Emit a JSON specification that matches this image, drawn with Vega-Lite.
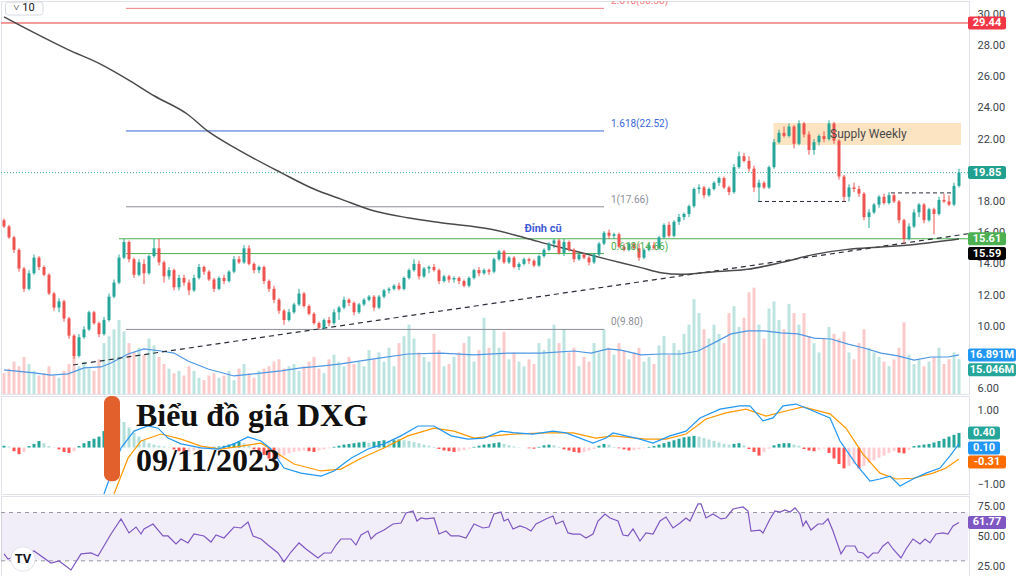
{
"$schema":"https://vega.github.io/schema/vega-lite/v6.json",
"padding":0,
"background":"white",
"bounds":"flush",
"spacing":2,
"config":{"view":{"stroke":"#e0e3eb"},"axis":{"ticks":false,"tickSize":0,"domain":false,"grid":false,"labelPadding":8,"labelColor":"#3c3f4a","labelFontSize":11,"labelFont":"Roboto","labelOverlap":false},"text":{"font":"Roboto"}},
"datasets":{
"candles":[
{"i":0,"o":16.8,"h":16.9,"l":16.3,"c":16.4,"v":9,"mh":0.05,"hc":"A"},
{"i":1,"o":16.4,"h":16.5,"l":15.6,"c":15.7,"v":11,"mh":0.03,"hc":"B"},
{"i":2,"o":15.7,"h":15.8,"l":14.7,"c":14.9,"v":14,"mh":-0.1,"hc":"C"},
{"i":3,"o":14.9,"h":15.0,"l":13.5,"c":13.7,"v":12,"mh":-0.18,"hc":"C"},
{"i":4,"o":13.7,"h":13.8,"l":12.2,"c":12.4,"v":16,"mh":-0.12,"hc":"D"},
{"i":5,"o":12.4,"h":13.6,"l":12.3,"c":13.4,"v":13,"mh":0.04,"hc":"A"},
{"i":6,"o":13.4,"h":14.6,"l":13.3,"c":14.4,"v":10,"mh":0.1,"hc":"A"},
{"i":7,"o":14.4,"h":14.5,"l":13.6,"c":13.8,"v":8,"mh":0.18,"hc":"A"},
{"i":8,"o":13.8,"h":13.9,"l":13.2,"c":13.3,"v":9,"mh":0.12,"hc":"B"},
{"i":9,"o":13.3,"h":13.4,"l":12.0,"c":12.1,"v":12,"mh":0.04,"hc":"B"},
{"i":10,"o":12.1,"h":12.2,"l":11.0,"c":11.2,"v":8,"mh":0.01,"hc":"B"},
{"i":11,"o":11.2,"h":11.8,"l":10.9,"c":11.6,"v":7,"mh":-0.05,"hc":"C"},
{"i":12,"o":11.6,"h":11.7,"l":10.3,"c":10.5,"v":10,"mh":-0.12,"hc":"C"},
{"i":13,"o":10.5,"h":10.6,"l":9.2,"c":9.4,"v":13,"mh":-0.15,"hc":"C"},
{"i":14,"o":9.4,"h":9.5,"l":7.9,"c":8.1,"v":17,"mh":-0.1,"hc":"D"},
{"i":15,"o":8.1,"h":9.5,"l":8.0,"c":9.3,"v":12,"mh":0.04,"hc":"A"},
{"i":16,"o":9.3,"h":10.0,"l":9.2,"c":9.8,"v":14,"mh":0.12,"hc":"A"},
{"i":17,"o":9.8,"h":11.0,"l":9.7,"c":10.9,"v":11,"mh":0.18,"hc":"A"},
{"i":18,"o":10.9,"h":11.0,"l":10.1,"c":10.2,"v":10,"mh":0.24,"hc":"A"},
{"i":19,"o":10.2,"h":10.3,"l":9.3,"c":9.5,"v":15,"mh":0.3,"hc":"A"},
{"i":20,"o":9.5,"h":10.6,"l":9.4,"c":10.4,"v":22,"mh":0.45,"hc":"A"},
{"i":21,"o":10.4,"h":12.1,"l":10.3,"c":11.9,"v":25,"mh":0.65,"hc":"A"},
{"i":22,"o":11.9,"h":13.0,"l":11.8,"c":12.8,"v":28,"mh":0.85,"hc":"A"},
{"i":23,"o":12.8,"h":14.6,"l":12.7,"c":14.4,"v":32,"mh":0.8,"hc":"B"},
{"i":24,"o":14.4,"h":15.6,"l":14.3,"c":15.4,"v":27,"mh":0.7,"hc":"B"},
{"i":25,"o":15.4,"h":15.5,"l":14.1,"c":14.3,"v":22,"mh":0.55,"hc":"B"},
{"i":26,"o":14.3,"h":14.4,"l":13.1,"c":13.3,"v":18,"mh":0.4,"hc":"B"},
{"i":27,"o":13.3,"h":14.3,"l":13.2,"c":14.1,"v":20,"mh":0.3,"hc":"B"},
{"i":28,"o":14.0,"h":14.3,"l":12.7,"c":13.4,"v":17,"mh":0.2,"hc":"B"},
{"i":29,"o":13.4,"h":14.6,"l":13.3,"c":14.5,"v":24,"mh":0.12,"hc":"B"},
{"i":30,"o":14.5,"h":15.6,"l":14.4,"c":15.0,"v":21,"mh":0.08,"hc":"B"},
{"i":31,"o":15.0,"h":15.6,"l":13.9,"c":14.1,"v":16,"mh":0.05,"hc":"B"},
{"i":32,"o":14.1,"h":14.2,"l":12.8,"c":13.2,"v":13,"mh":0.03,"hc":"B"},
{"i":33,"o":13.2,"h":13.8,"l":13.0,"c":13.6,"v":11,"mh":0.01,"hc":"B"},
{"i":34,"o":13.6,"h":13.7,"l":12.3,"c":12.5,"v":9,"mh":-0.05,"hc":"C"},
{"i":35,"o":12.5,"h":13.3,"l":12.3,"c":13.1,"v":10,"mh":-0.1,"hc":"C"},
{"i":36,"o":13.1,"h":13.3,"l":12.6,"c":12.8,"v":8,"mh":-0.15,"hc":"C"},
{"i":37,"o":12.8,"h":13.0,"l":12.0,"c":12.3,"v":12,"mh":-0.12,"hc":"D"},
{"i":38,"o":12.3,"h":13.3,"l":12.2,"c":13.1,"v":10,"mh":-0.08,"hc":"D"},
{"i":39,"o":13.1,"h":14.0,"l":13.0,"c":13.8,"v":7,"mh":-0.05,"hc":"D"},
{"i":40,"o":13.8,"h":13.9,"l":13.3,"c":13.5,"v":6,"mh":-0.02,"hc":"D"},
{"i":41,"o":13.5,"h":13.6,"l":12.9,"c":13.0,"v":8,"mh":0.01,"hc":"A"},
{"i":42,"o":13.0,"h":13.1,"l":12.2,"c":12.4,"v":9,"mh":0.02,"hc":"A"},
{"i":43,"o":12.4,"h":13.2,"l":12.3,"c":13.1,"v":7,"mh":0.03,"hc":"A"},
{"i":44,"o":13.1,"h":13.3,"l":12.7,"c":12.9,"v":8,"mh":0.05,"hc":"A"},
{"i":45,"o":12.9,"h":13.6,"l":12.8,"c":13.5,"v":10,"mh":0.08,"hc":"A"},
{"i":46,"o":13.5,"h":14.5,"l":13.4,"c":14.3,"v":6,"mh":0.12,"hc":"A"},
{"i":47,"o":14.3,"h":14.5,"l":14.0,"c":14.1,"v":11,"mh":0.16,"hc":"A"},
{"i":48,"o":14.1,"h":15.2,"l":14.0,"c":15.0,"v":13,"mh":0.12,"hc":"B"},
{"i":49,"o":15.0,"h":15.2,"l":13.9,"c":14.0,"v":9,"mh":0.06,"hc":"B"},
{"i":50,"o":14.0,"h":14.1,"l":13.4,"c":13.6,"v":7,"mh":-0.05,"hc":"C"},
{"i":51,"o":13.6,"h":13.9,"l":13.4,"c":13.8,"v":10,"mh":-0.12,"hc":"C"},
{"i":52,"o":13.8,"h":13.9,"l":12.7,"c":12.9,"v":11,"mh":-0.2,"hc":"C"},
{"i":53,"o":12.9,"h":13.0,"l":12.2,"c":12.4,"v":12,"mh":-0.3,"hc":"C"},
{"i":54,"o":12.4,"h":12.6,"l":11.5,"c":11.7,"v":14,"mh":-0.38,"hc":"C"},
{"i":55,"o":11.7,"h":11.8,"l":10.8,"c":11.0,"v":15,"mh":-0.32,"hc":"D"},
{"i":56,"o":11.0,"h":11.1,"l":10.1,"c":10.4,"v":11,"mh":-0.22,"hc":"D"},
{"i":57,"o":10.4,"h":11.1,"l":10.3,"c":10.9,"v":12,"mh":-0.16,"hc":"D"},
{"i":58,"o":10.9,"h":11.5,"l":10.8,"c":11.4,"v":13,"mh":-0.12,"hc":"D"},
{"i":59,"o":11.4,"h":12.4,"l":11.3,"c":12.1,"v":10,"mh":-0.1,"hc":"D"},
{"i":60,"o":12.1,"h":12.2,"l":11.2,"c":11.3,"v":12,"mh":-0.08,"hc":"D"},
{"i":61,"o":11.3,"h":11.4,"l":10.7,"c":10.8,"v":14,"mh":-0.1,"hc":"C"},
{"i":62,"o":10.8,"h":10.9,"l":10.1,"c":10.2,"v":16,"mh":-0.12,"hc":"C"},
{"i":63,"o":10.2,"h":10.3,"l":9.8,"c":9.9,"v":11,"mh":-0.08,"hc":"D"},
{"i":64,"o":9.9,"h":10.5,"l":9.8,"c":10.4,"v":9,"mh":-0.05,"hc":"D"},
{"i":65,"o":10.4,"h":10.6,"l":10.0,"c":10.2,"v":15,"mh":-0.02,"hc":"D"},
{"i":66,"o":10.2,"h":11.1,"l":10.1,"c":10.9,"v":17,"mh":0.02,"hc":"A"},
{"i":67,"o":10.9,"h":11.3,"l":10.4,"c":11.2,"v":14,"mh":0.05,"hc":"A"},
{"i":68,"o":11.2,"h":11.9,"l":11.1,"c":11.7,"v":12,"mh":0.08,"hc":"A"},
{"i":69,"o":11.7,"h":11.8,"l":11.3,"c":11.5,"v":16,"mh":0.1,"hc":"A"},
{"i":70,"o":11.5,"h":11.6,"l":10.7,"c":10.9,"v":13,"mh":0.12,"hc":"A"},
{"i":71,"o":10.9,"h":11.5,"l":10.8,"c":11.4,"v":14,"mh":0.14,"hc":"A"},
{"i":72,"o":11.4,"h":11.8,"l":11.3,"c":11.7,"v":12,"mh":0.16,"hc":"A"},
{"i":73,"o":11.7,"h":12.0,"l":11.6,"c":11.9,"v":19,"mh":0.13,"hc":"B"},
{"i":74,"o":11.9,"h":12.0,"l":11.0,"c":11.2,"v":15,"mh":0.16,"hc":"A"},
{"i":75,"o":11.2,"h":12.0,"l":11.1,"c":11.9,"v":18,"mh":0.18,"hc":"A"},
{"i":76,"o":11.9,"h":12.4,"l":11.8,"c":12.3,"v":14,"mh":0.2,"hc":"A"},
{"i":77,"o":12.3,"h":12.5,"l":12.1,"c":12.4,"v":20,"mh":0.17,"hc":"B"},
{"i":78,"o":12.4,"h":12.7,"l":12.3,"c":12.6,"v":12,"mh":0.2,"hc":"A"},
{"i":79,"o":12.6,"h":12.8,"l":12.3,"c":12.4,"v":22,"mh":0.22,"hc":"A"},
{"i":80,"o":12.4,"h":13.2,"l":12.3,"c":13.1,"v":25,"mh":0.2,"hc":"B"},
{"i":81,"o":13.1,"h":13.7,"l":13.0,"c":13.6,"v":30,"mh":0.18,"hc":"B"},
{"i":82,"o":13.6,"h":14.3,"l":13.5,"c":14.0,"v":24,"mh":0.15,"hc":"B"},
{"i":83,"o":14.0,"h":14.2,"l":13.0,"c":13.2,"v":18,"mh":0.12,"hc":"B"},
{"i":84,"o":13.2,"h":13.8,"l":13.1,"c":13.7,"v":16,"mh":0.08,"hc":"B"},
{"i":85,"o":13.7,"h":13.9,"l":13.4,"c":13.8,"v":14,"mh":0.05,"hc":"B"},
{"i":86,"o":13.8,"h":14.0,"l":13.5,"c":13.6,"v":26,"mh":0.02,"hc":"B"},
{"i":87,"o":13.6,"h":13.7,"l":12.7,"c":12.9,"v":19,"mh":-0.04,"hc":"C"},
{"i":88,"o":12.9,"h":13.3,"l":12.8,"c":13.2,"v":12,"mh":-0.08,"hc":"C"},
{"i":89,"o":13.2,"h":13.3,"l":12.8,"c":13.0,"v":13,"mh":-0.1,"hc":"C"},
{"i":90,"o":13.0,"h":13.2,"l":12.8,"c":13.1,"v":16,"mh":-0.12,"hc":"C"},
{"i":91,"o":13.1,"h":13.2,"l":12.7,"c":12.9,"v":18,"mh":-0.1,"hc":"D"},
{"i":92,"o":12.9,"h":13.0,"l":12.5,"c":12.6,"v":22,"mh":-0.07,"hc":"D"},
{"i":93,"o":12.6,"h":13.2,"l":12.5,"c":13.1,"v":25,"mh":-0.03,"hc":"D"},
{"i":94,"o":13.1,"h":13.7,"l":13.0,"c":13.6,"v":14,"mh":0.02,"hc":"A"},
{"i":95,"o":13.6,"h":13.8,"l":13.2,"c":13.4,"v":19,"mh":0.05,"hc":"A"},
{"i":96,"o":13.4,"h":13.7,"l":13.3,"c":13.6,"v":33,"mh":0.08,"hc":"A"},
{"i":97,"o":13.6,"h":13.7,"l":13.3,"c":13.5,"v":20,"mh":0.1,"hc":"A"},
{"i":98,"o":13.5,"h":14.4,"l":13.4,"c":14.3,"v":28,"mh":0.12,"hc":"A"},
{"i":99,"o":14.3,"h":14.9,"l":14.2,"c":14.8,"v":20,"mh":0.14,"hc":"A"},
{"i":100,"o":14.8,"h":14.9,"l":14.0,"c":14.1,"v":27,"mh":0.1,"hc":"B"},
{"i":101,"o":14.1,"h":14.5,"l":14.0,"c":14.4,"v":15,"mh":0.06,"hc":"B"},
{"i":102,"o":14.4,"h":14.5,"l":13.7,"c":13.8,"v":18,"mh":0.03,"hc":"B"},
{"i":103,"o":13.8,"h":14.1,"l":13.6,"c":14.0,"v":14,"mh":0.01,"hc":"B"},
{"i":104,"o":14.0,"h":14.4,"l":13.9,"c":14.3,"v":12,"mh":0.0,"hc":"B"},
{"i":105,"o":14.3,"h":14.4,"l":14.0,"c":14.2,"v":15,"mh":-0.02,"hc":"C"},
{"i":106,"o":14.2,"h":14.3,"l":13.8,"c":13.9,"v":13,"mh":-0.03,"hc":"C"},
{"i":107,"o":13.9,"h":14.6,"l":13.8,"c":14.5,"v":22,"mh":0.02,"hc":"A"},
{"i":108,"o":14.5,"h":15.0,"l":14.4,"c":14.9,"v":19,"mh":0.06,"hc":"A"},
{"i":109,"o":14.9,"h":15.4,"l":14.8,"c":15.3,"v":24,"mh":0.08,"hc":"A"},
{"i":110,"o":15.3,"h":15.6,"l":15.0,"c":15.5,"v":30,"mh":0.06,"hc":"B"},
{"i":111,"o":15.5,"h":15.6,"l":14.6,"c":14.7,"v":22,"mh":0.02,"hc":"B"},
{"i":112,"o":14.7,"h":15.6,"l":14.5,"c":15.4,"v":28,"mh":-0.05,"hc":"C"},
{"i":113,"o":15.4,"h":15.5,"l":14.8,"c":14.9,"v":18,"mh":-0.08,"hc":"C"},
{"i":114,"o":14.9,"h":15.0,"l":14.1,"c":14.3,"v":20,"mh":-0.12,"hc":"C"},
{"i":115,"o":14.3,"h":14.7,"l":14.2,"c":14.6,"v":12,"mh":-0.14,"hc":"C"},
{"i":116,"o":14.6,"h":14.7,"l":14.3,"c":14.4,"v":16,"mh":-0.12,"hc":"D"},
{"i":117,"o":14.4,"h":14.5,"l":13.9,"c":14.1,"v":14,"mh":-0.08,"hc":"D"},
{"i":118,"o":14.1,"h":14.7,"l":14.0,"c":14.6,"v":22,"mh":-0.04,"hc":"D"},
{"i":119,"o":14.6,"h":15.4,"l":14.5,"c":15.3,"v":18,"mh":0.05,"hc":"A"},
{"i":120,"o":15.3,"h":16.1,"l":15.2,"c":16.0,"v":28,"mh":0.1,"hc":"A"},
{"i":121,"o":16.0,"h":16.2,"l":15.6,"c":15.8,"v":20,"mh":0.08,"hc":"B"},
{"i":122,"o":15.8,"h":16.0,"l":15.6,"c":15.9,"v":17,"mh":0.02,"hc":"B"},
{"i":123,"o":15.9,"h":16.0,"l":15.0,"c":15.1,"v":22,"mh":-0.02,"hc":"C"},
{"i":124,"o":15.1,"h":15.3,"l":14.8,"c":14.9,"v":19,"mh":-0.05,"hc":"C"},
{"i":125,"o":14.9,"h":15.4,"l":14.8,"c":15.3,"v":15,"mh":-0.08,"hc":"C"},
{"i":126,"o":15.3,"h":15.4,"l":14.9,"c":15.0,"v":18,"mh":-0.07,"hc":"D"},
{"i":127,"o":15.0,"h":15.3,"l":14.2,"c":14.4,"v":20,"mh":-0.05,"hc":"D"},
{"i":128,"o":14.4,"h":15.0,"l":14.3,"c":14.9,"v":14,"mh":-0.02,"hc":"D"},
{"i":129,"o":14.9,"h":15.3,"l":14.8,"c":15.2,"v":16,"mh":0.02,"hc":"A"},
{"i":130,"o":15.2,"h":15.4,"l":14.9,"c":15.0,"v":13,"mh":0.04,"hc":"A"},
{"i":131,"o":15.0,"h":15.8,"l":14.9,"c":15.7,"v":21,"mh":0.08,"hc":"A"},
{"i":132,"o":15.7,"h":16.6,"l":15.6,"c":16.5,"v":25,"mh":0.12,"hc":"A"},
{"i":133,"o":16.5,"h":16.7,"l":15.7,"c":15.8,"v":17,"mh":0.16,"hc":"A"},
{"i":134,"o":15.8,"h":16.8,"l":15.7,"c":16.7,"v":22,"mh":0.2,"hc":"A"},
{"i":135,"o":16.7,"h":17.2,"l":16.5,"c":17.0,"v":19,"mh":0.24,"hc":"A"},
{"i":136,"o":17.0,"h":17.3,"l":16.8,"c":17.2,"v":26,"mh":0.28,"hc":"A"},
{"i":137,"o":17.2,"h":17.8,"l":17.0,"c":17.7,"v":30,"mh":0.3,"hc":"A"},
{"i":138,"o":17.7,"h":18.9,"l":17.6,"c":18.8,"v":41,"mh":0.32,"hc":"A"},
{"i":139,"o":18.8,"h":19.1,"l":18.5,"c":18.9,"v":35,"mh":0.3,"hc":"B"},
{"i":140,"o":18.9,"h":19.0,"l":18.2,"c":18.4,"v":28,"mh":0.26,"hc":"B"},
{"i":141,"o":18.4,"h":18.9,"l":18.3,"c":18.8,"v":24,"mh":0.22,"hc":"B"},
{"i":142,"o":18.8,"h":19.3,"l":18.7,"c":19.2,"v":30,"mh":0.18,"hc":"B"},
{"i":143,"o":19.2,"h":19.6,"l":19.0,"c":19.5,"v":26,"mh":0.14,"hc":"B"},
{"i":144,"o":19.5,"h":19.6,"l":18.8,"c":18.9,"v":22,"mh":0.1,"hc":"B"},
{"i":145,"o":18.9,"h":19.0,"l":18.4,"c":18.6,"v":35,"mh":0.08,"hc":"B"},
{"i":146,"o":18.6,"h":20.4,"l":18.5,"c":20.2,"v":38,"mh":0.1,"hc":"A"},
{"i":147,"o":20.2,"h":21.2,"l":20.1,"c":20.9,"v":29,"mh":0.12,"hc":"A"},
{"i":148,"o":20.9,"h":21.1,"l":20.5,"c":20.6,"v":33,"mh":0.06,"hc":"B"},
{"i":149,"o":20.6,"h":20.9,"l":19.9,"c":20.1,"v":44,"mh":-0.04,"hc":"C"},
{"i":150,"o":20.1,"h":20.3,"l":18.6,"c":18.9,"v":46,"mh":-0.12,"hc":"C"},
{"i":151,"o":18.9,"h":19.4,"l":18.0,"c":19.2,"v":30,"mh":-0.22,"hc":"C"},
{"i":152,"o":19.2,"h":19.3,"l":18.8,"c":18.9,"v":24,"mh":-0.12,"hc":"D"},
{"i":153,"o":18.9,"h":20.3,"l":18.8,"c":20.2,"v":37,"mh":-0.03,"hc":"D"},
{"i":154,"o":20.2,"h":22.0,"l":20.1,"c":21.8,"v":40,"mh":0.06,"hc":"A"},
{"i":155,"o":21.8,"h":22.6,"l":21.7,"c":22.4,"v":32,"mh":0.1,"hc":"A"},
{"i":156,"o":22.4,"h":22.8,"l":22.1,"c":22.2,"v":28,"mh":0.12,"hc":"A"},
{"i":157,"o":22.2,"h":23.0,"l":22.1,"c":22.8,"v":39,"mh":0.12,"hc":"A"},
{"i":158,"o":22.8,"h":22.9,"l":21.4,"c":21.7,"v":35,"mh":0.08,"hc":"B"},
{"i":159,"o":21.7,"h":23.2,"l":21.6,"c":23.0,"v":30,"mh":0.05,"hc":"B"},
{"i":160,"o":23.0,"h":23.1,"l":22.1,"c":22.3,"v":35,"mh":-0.04,"hc":"C"},
{"i":161,"o":22.3,"h":22.5,"l":21.0,"c":21.3,"v":25,"mh":-0.08,"hc":"C"},
{"i":162,"o":21.3,"h":22.0,"l":21.0,"c":21.8,"v":22,"mh":-0.1,"hc":"C"},
{"i":163,"o":21.8,"h":22.3,"l":21.6,"c":22.2,"v":18,"mh":-0.06,"hc":"D"},
{"i":164,"o":22.2,"h":22.5,"l":21.8,"c":22.0,"v":24,"mh":-0.03,"hc":"D"},
{"i":165,"o":22.0,"h":23.2,"l":21.9,"c":23.0,"v":29,"mh":-0.15,"hc":"C"},
{"i":166,"o":23.0,"h":23.1,"l":21.7,"c":21.9,"v":26,"mh":-0.3,"hc":"C"},
{"i":167,"o":21.9,"h":22.0,"l":19.4,"c":19.6,"v":24,"mh":-0.45,"hc":"C"},
{"i":168,"o":19.6,"h":19.7,"l":18.0,"c":18.3,"v":27,"mh":-0.57,"hc":"C"},
{"i":169,"o":18.3,"h":19.1,"l":18.0,"c":18.9,"v":18,"mh":-0.5,"hc":"D"},
{"i":170,"o":18.9,"h":19.2,"l":18.6,"c":18.8,"v":15,"mh":-0.45,"hc":"D"},
{"i":171,"o":18.8,"h":19.0,"l":18.3,"c":18.5,"v":22,"mh":-0.57,"hc":"C"},
{"i":172,"o":18.5,"h":18.6,"l":16.8,"c":17.0,"v":28,"mh":-0.5,"hc":"D"},
{"i":173,"o":17.0,"h":17.5,"l":16.3,"c":17.3,"v":20,"mh":-0.42,"hc":"D"},
{"i":174,"o":17.3,"h":17.9,"l":17.2,"c":17.8,"v":18,"mh":-0.35,"hc":"D"},
{"i":175,"o":17.8,"h":18.4,"l":17.6,"c":18.3,"v":16,"mh":-0.28,"hc":"D"},
{"i":176,"o":18.3,"h":18.5,"l":17.8,"c":17.9,"v":14,"mh":-0.22,"hc":"D"},
{"i":177,"o":17.9,"h":18.6,"l":17.8,"c":18.4,"v":12,"mh":-0.15,"hc":"D"},
{"i":178,"o":18.4,"h":18.5,"l":17.9,"c":18.0,"v":15,"mh":-0.1,"hc":"D"},
{"i":179,"o":18.0,"h":18.1,"l":16.6,"c":16.8,"v":20,"mh":-0.14,"hc":"C"},
{"i":180,"o":16.8,"h":16.9,"l":15.3,"c":15.6,"v":31,"mh":-0.16,"hc":"C"},
{"i":181,"o":15.6,"h":16.6,"l":15.5,"c":16.4,"v":17,"mh":-0.06,"hc":"D"},
{"i":182,"o":16.4,"h":17.5,"l":16.3,"c":17.3,"v":13,"mh":0.04,"hc":"A"},
{"i":183,"o":17.3,"h":17.9,"l":17.0,"c":17.8,"v":15,"mh":0.06,"hc":"A"},
{"i":184,"o":17.8,"h":17.9,"l":16.6,"c":16.8,"v":12,"mh":0.08,"hc":"A"},
{"i":185,"o":16.8,"h":17.6,"l":16.7,"c":17.5,"v":14,"mh":0.1,"hc":"A"},
{"i":186,"o":17.5,"h":17.6,"l":15.9,"c":17.2,"v":16,"mh":0.14,"hc":"A"},
{"i":187,"o":17.2,"h":18.3,"l":17.1,"c":18.1,"v":20,"mh":0.18,"hc":"A"},
{"i":188,"o":18.1,"h":18.5,"l":17.9,"c":18.0,"v":13,"mh":0.24,"hc":"A"},
{"i":189,"o":18.0,"h":18.4,"l":17.7,"c":17.8,"v":15,"mh":0.3,"hc":"A"},
{"i":190,"o":17.8,"h":19.2,"l":17.7,"c":19.0,"v":18,"mh":0.35,"hc":"A"},
{"i":191,"o":19.0,"h":20.1,"l":18.9,"c":19.85,"v":15.046,"mh":0.4,"hc":"A"}
],
"ma200":[{"i":0,"m":29.83},{"i":6,"m":28.82},{"i":12.7,"m":27.75},{"i":19.4,"m":26.79},{"i":24.7,"m":25.83},{"i":30.1,"m":24.76},{"i":36.7,"m":23.59},{"i":40.7,"m":22.52},{"i":46.1,"m":21.45},{"i":55.4,"m":19.85},{"i":62.1,"m":18.78},{"i":67.4,"m":18.15},{"i":74.1,"m":17.39},{"i":80.7,"m":16.96},{"i":87.4,"m":16.64},{"i":97.4,"m":16.22},{"i":104.1,"m":15.68},{"i":110.1,"m":15.15},{"i":114.1,"m":14.83},{"i":120.7,"m":14.29},{"i":127.4,"m":13.76},{"i":131.4,"m":13.43},{"i":135.4,"m":13.33},{"i":142.1,"m":13.5},{"i":148.7,"m":13.65},{"i":155.4,"m":14.08},{"i":162.1,"m":14.61},{"i":168.7,"m":14.93},{"i":175.4,"m":15.08},{"i":182.1,"m":15.25},{"i":191,"m":15.59}],
"vma":[{"i":0,"v":10.4},{"i":6,"v":9.1},{"i":9.4,"v":8.2},{"i":12.8,"v":8.7},{"i":16,"v":11.3},{"i":19.4,"v":11.7},{"i":21.4,"v":13.4},{"i":24.8,"v":17.3},{"i":28,"v":19.5},{"i":31.4,"v":18.6},{"i":34,"v":17.7},{"i":36.8,"v":14.3},{"i":40.8,"v":10.8},{"i":46,"v":7.8},{"i":50,"v":8.7},{"i":55.4,"v":10.0},{"i":59.4,"v":11.3},{"i":63.4,"v":12.1},{"i":67.4,"v":13.0},{"i":74,"v":15.2},{"i":80.8,"v":17.3},{"i":87.4,"v":17.7},{"i":94,"v":16.9},{"i":100.8,"v":17.7},{"i":107.4,"v":17.7},{"i":114,"v":18.6},{"i":117.4,"v":17.7},{"i":120.8,"v":19.5},{"i":123.4,"v":19.0},{"i":127.4,"v":16.9},{"i":131.4,"v":17.3},{"i":135.4,"v":17.3},{"i":138.8,"v":18.6},{"i":142,"v":22.1},{"i":145.4,"v":26.0},{"i":148.8,"v":27.3},{"i":152,"v":27.3},{"i":155.4,"v":26.4},{"i":158.8,"v":26.0},{"i":162,"v":24.2},{"i":165.4,"v":23.8},{"i":168.8,"v":21.6},{"i":172,"v":19.9},{"i":175.4,"v":17.7},{"i":178.8,"v":16.5},{"i":182,"v":14.7},{"i":185.4,"v":16.0},{"i":188.8,"v":16.0},{"i":191,"v":16.891}],
"macd":[{"i":17,"m":-1.9},{"i":20,"m":-1.27},{"i":21.4,"m":-0.73},{"i":23.4,"m":-0.01},{"i":26,"m":0.45},{"i":28.8,"m":0.59},{"i":30.8,"m":0.53},{"i":32.8,"m":0.26},{"i":35.4,"m":0.1},{"i":39.4,"m":-0.01},{"i":42.8,"m":-0.04},{"i":46,"m":0.1},{"i":48.8,"m":0.29},{"i":51.4,"m":0.18},{"i":53.4,"m":-0.04},{"i":56,"m":-0.56},{"i":59.4,"m":-0.7},{"i":63.4,"m":-0.78},{"i":66,"m":-0.64},{"i":69.4,"m":-0.29},{"i":72.8,"m":-0.04},{"i":76,"m":0.1},{"i":79.4,"m":0.32},{"i":82.8,"m":0.59},{"i":86,"m":0.59},{"i":89.4,"m":0.32},{"i":92.8,"m":0.23},{"i":96,"m":0.26},{"i":99.4,"m":0.45},{"i":101.8,"m":0.41},{"i":105.8,"m":0.37},{"i":109.8,"m":0.45},{"i":112.4,"m":0.4},{"i":117.8,"m":0.12},{"i":120.4,"m":0.26},{"i":121.8,"m":0.4},{"i":127.2,"m":0.23},{"i":129.8,"m":0.12},{"i":133.2,"m":0.32},{"i":136.4,"m":0.45},{"i":139.2,"m":0.81},{"i":143.2,"m":1.05},{"i":147.2,"m":1.14},{"i":149.2,"m":1.14},{"i":151.8,"m":0.73},{"i":153.8,"m":0.81},{"i":155.8,"m":1.14},{"i":158.4,"m":1.19},{"i":160.4,"m":1.08},{"i":165.2,"m":0.81},{"i":167.2,"m":0.18},{"i":170.4,"m":-0.45},{"i":173.2,"m":-0.92},{"i":175.2,"m":-0.86},{"i":177.2,"m":-0.78},{"i":179.2,"m":-1.05},{"i":181.8,"m":-0.86},{"i":184.4,"m":-0.7},{"i":187.2,"m":-0.56},{"i":189.2,"m":-0.23},{"i":191,"m":0.1}],
"sig":[{"i":19,"s":-1.9},{"i":22,"s":-1.27},{"i":24.8,"s":-0.29},{"i":27.4,"s":0.18},{"i":31.4,"s":0.37},{"i":35.4,"s":0.23},{"i":39.4,"s":0.04},{"i":43.4,"s":-0.04},{"i":47.4,"s":0.04},{"i":51.4,"s":0.12},{"i":54,"s":-0.1},{"i":58,"s":-0.45},{"i":63.4,"s":-0.64},{"i":67.4,"s":-0.59},{"i":71.4,"s":-0.29},{"i":76,"s":-0.01},{"i":80.8,"s":0.32},{"i":86,"s":0.53},{"i":90,"s":0.45},{"i":94,"s":0.26},{"i":98,"s":0.32},{"i":101.8,"s":0.37},{"i":108.4,"s":0.4},{"i":113.8,"s":0.4},{"i":118.4,"s":0.26},{"i":121.8,"s":0.32},{"i":128.4,"s":0.23},{"i":132.4,"s":0.23},{"i":136.4,"s":0.37},{"i":140.4,"s":0.78},{"i":144.4,"s":0.95},{"i":148.4,"s":1.05},{"i":152.4,"s":0.86},{"i":156.4,"s":1.0},{"i":159.8,"s":1.11},{"i":165.2,"s":0.92},{"i":168.4,"s":0.53},{"i":171.8,"s":-0.18},{"i":175.2,"s":-0.7},{"i":178.4,"s":-0.86},{"i":181.8,"s":-0.84},{"i":185.8,"s":-0.7},{"i":188.4,"s":-0.56},{"i":191,"s":-0.31}],
"rsi":[{"i":0,"r":35.7},{"i":0.8,"r":31.5},{"i":6,"r":38.2},{"i":9.4,"r":28.2},{"i":11,"r":29.9},{"i":13.4,"r":22.4},{"i":15.4,"r":35.7},{"i":17.4,"r":36.5},{"i":18.8,"r":34.0},{"i":21.4,"r":52.2},{"i":23.4,"r":64.7},{"i":25,"r":53.1},{"i":26.4,"r":58.0},{"i":27.4,"r":52.2},{"i":28,"r":56.4},{"i":29.8,"r":60.5},{"i":31.8,"r":50.6},{"i":32.8,"r":50.6},{"i":34.4,"r":44.0},{"i":35.4,"r":48.1},{"i":36.8,"r":44.8},{"i":38,"r":52.2},{"i":40,"r":50.6},{"i":41.4,"r":45.6},{"i":42.4,"r":51.4},{"i":44,"r":48.9},{"i":46,"r":58.0},{"i":47.4,"r":57.2},{"i":48.8,"r":62.2},{"i":49.8,"r":50.6},{"i":51.4,"r":48.1},{"i":52.8,"r":43.1},{"i":54.8,"r":36.5},{"i":56,"r":29.1},{"i":57.4,"r":37.3},{"i":59,"r":44.8},{"i":60.4,"r":39.8},{"i":62.8,"r":32.4},{"i":64,"r":36.5},{"i":65.4,"r":36.5},{"i":66.4,"r":43.1},{"i":67.4,"r":48.1},{"i":69.4,"r":48.1},{"i":70.4,"r":43.1},{"i":71.4,"r":51.4},{"i":72.8,"r":54.7},{"i":73.4,"r":48.1},{"i":74.4,"r":52.2},{"i":76,"r":55.5},{"i":77.8,"r":60.5},{"i":79.4,"r":61.3},{"i":80.4,"r":69.6},{"i":81.8,"r":71.3},{"i":82.6,"r":63.0},{"i":83.4,"r":65.5},{"i":84.4,"r":64.7},{"i":86,"r":65.5},{"i":87,"r":52.2},{"i":88.4,"r":54.7},{"i":89.4,"r":50.6},{"i":91,"r":50.6},{"i":92.4,"r":48.9},{"i":94,"r":60.5},{"i":95.8,"r":57.2},{"i":97,"r":58.0},{"i":98,"r":68.8},{"i":99.4,"r":70.4},{"i":100,"r":63.0},{"i":100.8,"r":64.7},{"i":101.8,"r":56.4},{"i":103.2,"r":58.9},{"i":104.4,"r":57.2},{"i":105.4,"r":54.7},{"i":106.4,"r":60.5},{"i":108.4,"r":64.7},{"i":109.8,"r":67.1},{"i":110.4,"r":60.5},{"i":111.8,"r":63.0},{"i":112.8,"r":53.1},{"i":113.8,"r":52.2},{"i":115.2,"r":52.2},{"i":116.4,"r":48.9},{"i":117.8,"r":52.2},{"i":118.8,"r":63.0},{"i":120.2,"r":68.8},{"i":121.2,"r":65.5},{"i":122.8,"r":63.0},{"i":123.8,"r":51.4},{"i":124.8,"r":50.6},{"i":125.8,"r":56.4},{"i":127.2,"r":46.4},{"i":128.4,"r":53.1},{"i":129.8,"r":52.2},{"i":131.2,"r":63.0},{"i":132.4,"r":66.3},{"i":133.8,"r":57.2},{"i":135.2,"r":61.3},{"i":136.4,"r":65.5},{"i":137.2,"r":63.0},{"i":138.8,"r":77.1},{"i":139.4,"r":77.1},{"i":140.4,"r":65.5},{"i":141.8,"r":68.8},{"i":143.4,"r":64.7},{"i":144.4,"r":65.5},{"i":145.8,"r":72.9},{"i":147.8,"r":74.6},{"i":148.8,"r":71.3},{"i":149.4,"r":54.7},{"i":151.2,"r":55.5},{"i":151.8,"r":53.1},{"i":153.2,"r":64.7},{"i":154.2,"r":71.3},{"i":155.2,"r":70.4},{"i":156.2,"r":72.1},{"i":157.2,"r":70.4},{"i":158.2,"r":73.8},{"i":159.2,"r":68.8},{"i":159.8,"r":58.9},{"i":160.4,"r":63.0},{"i":161.4,"r":55.5},{"i":162.8,"r":60.5},{"i":163.8,"r":60.5},{"i":164.8,"r":64.7},{"i":165.8,"r":54.7},{"i":167.4,"r":35.7},{"i":168.4,"r":42.3},{"i":170.2,"r":42.3},{"i":170.8,"r":37.3},{"i":171.8,"r":36.5},{"i":172.8,"r":32.4},{"i":173.8,"r":36.5},{"i":174.8,"r":36.5},{"i":175.8,"r":42.3},{"i":176.8,"r":45.6},{"i":177.8,"r":39.8},{"i":179.4,"r":32.4},{"i":180.4,"r":39.8},{"i":181.8,"r":48.1},{"i":183.2,"r":44.0},{"i":184.2,"r":48.1},{"i":185.2,"r":44.8},{"i":186.4,"r":52.2},{"i":187.8,"r":53.1},{"i":188.8,"r":52.2},{"i":189.8,"r":58.9},{"i":191,"r":61.77}],
"hl":[{"k":"f2618","x1":24.4,"x2":120,"y":30.38},{"k":"f1618","x1":24.4,"x2":120,"y":22.52},{"k":"f1","x1":24.4,"x2":120,"y":17.66},{"k":"f0618","x1":24.4,"x2":120,"y":14.66},{"k":"f0","x1":24.4,"x2":120,"y":9.8},{"k":"res","x1":-0.6,"x2":192.8,"y":29.44},{"k":"sup","x1":23,"x2":192.8,"y":15.61},{"k":"last","x1":-0.6,"x2":192.8,"y":19.85},{"k":"box","x1":150.8,"x2":168.8,"y":18.0},{"k":"box","x1":177.4,"x2":189.4,"y":18.55}],
"fibl":[{"k":"f2618","t":"2.618(30.38)","y":30.38},{"k":"f1618","t":"1.618(22.52)","y":22.52},{"k":"f1","t":"1(17.66)","y":17.66},{"k":"f0618","t":"0.618(14.66)","y":14.66},{"k":"f0","t":"0(9.80)","y":9.8}]
},
"resolve":{"scale":{"x":"independent","y":"independent","color":"independent","fill":"independent","strokeWidth":"independent","strokeDash":"independent"}},
"vconcat":[
{
"width":968,"height":393,
"resolve":{"scale":{"y":"independent"}},
"layer":[
{"layer":[
{"data":{"name":"candles"},"mark":{"type":"rule","strokeWidth":3,"opacity":0.3},"encoding":{"x":{"field":"i","type":"quantitative","scale":{"domain":[-0.6,193],"nice":false,"zero":false},"axis":null},"y":{"field":"v","type":"quantitative","scale":{"domain":[0,170],"nice":false,"zero":false},"axis":null},"y2":{"datum":0},"color":{"condition":{"test":"datum.c >= datum.o","value":"#26a69a"},"value":"#ef5350"}}},
{"data":{"name":"vma"},"mark":{"type":"line","color":"#4f97e3","strokeWidth":1.2},"encoding":{"x":{"field":"i","type":"quantitative","axis":null},"y":{"field":"v","type":"quantitative"}}},
{"data":{"values":[{"val":16.891,"t":"16.891M"}]},"layer":[
{"mark":{"type":"rect","color":"#2196f3","yOffset":-6.5,"y2Offset":6.5,"cornerRadius":2},"encoding":{"x":{"datum":192.8,"axis":null},"x2":{"datum":202.4},"y":{"field":"val","type":"quantitative"},"y2":{"field":"val"}}},
{"mark":{"type":"text","color":"white","fontWeight":"bold","fontSize":11},"encoding":{"x":{"datum":197.6,"axis":null},"y":{"field":"val","type":"quantitative"},"text":{"field":"t"}}}
]},
{"data":{"values":[{"val":15.046,"t":"15.046M"}]},"layer":[
{"mark":{"type":"rect","color":"#26a69a","yOffset":4,"y2Offset":17,"cornerRadius":2},"encoding":{"x":{"datum":192.8,"axis":null},"x2":{"datum":202.4},"y":{"field":"val","type":"quantitative"},"y2":{"field":"val"}}},
{"mark":{"type":"text","color":"white","fontWeight":"bold","fontSize":11,"dy":10.5},"encoding":{"x":{"datum":197.6,"axis":null},"y":{"field":"val","type":"quantitative"},"text":{"field":"t"}}}
]}
]},
{"layer":[
{"data":{"values":[{"x1":153.9,"x2":191.4,"lo":21.62,"hi":23.03}]},"mark":{"type":"rect","color":"#fbd9ad","opacity":0.75},"encoding":{"x":{"field":"x1","type":"quantitative","axis":null},"x2":{"field":"x2"},"y":{"field":"lo","type":"quantitative","scale":{"domain":[5.66,30.85],"nice":false,"zero":false},"axis":{"orient":"right","values":[6,10,12,14,16,18,22,24,26,28,30],"tickCount":20,"format":".2f","title":null,"labelOverlap":false}},"y2":{"field":"hi"}}},
{"data":{"name":"hl"},"mark":{"type":"rule"},"encoding":{"x":{"field":"x1","type":"quantitative","axis":null},"x2":{"field":"x2"},"y":{"field":"y","type":"quantitative"},
"color":{"field":"k","type":"nominal","scale":{"domain":["f2618","f1618","f1","f0618","f0","res","sup","last","box"],"range":["#ef7b7b","#3a66d8","#8c8f99","#4caf50","#8c8f99","#e53935","#4caf50","#3fa89c","#2a2e39"]},"legend":null},
"strokeWidth":{"field":"k","type":"ordinal","scale":{"domain":["f2618","f1618","f1","f0618","f0","res","sup","last","box"],"range":[1,1,1,1,1,1.6,2,1,1.2]},"legend":null},
"strokeDash":{"field":"k","type":"nominal","scale":{"domain":["f2618","f1618","f1","f0618","f0","res","sup","last","box"],"range":[[1,0],[1,0],[1,0],[1,0],[1,0],[1,0],[1,0],[1,2],[4,3]]},"legend":null}}},
{"data":{"values":[{"x1":13.8,"y1":7.52,"x2":192.8,"y2":15.93}]},"mark":{"type":"rule","color":"#2a2e39","strokeWidth":1.2,"strokeDash":[5,4]},"encoding":{"x":{"field":"x1","type":"quantitative","axis":null},"x2":{"field":"x2"},"y":{"field":"y1","type":"quantitative"},"y2":{"field":"y2"}}},
{"data":{"name":"ma200"},"mark":{"type":"line","color":"#4a4a4a","strokeWidth":1.5,"interpolate":"monotone"},"encoding":{"x":{"field":"i","type":"quantitative","axis":null},"y":{"field":"m","type":"quantitative"}}},
{"data":{"name":"candles"},"mark":{"type":"rule","strokeWidth":1},"encoding":{"x":{"field":"i","type":"quantitative","scale":{"domain":[-0.6,193],"nice":false,"zero":false},"axis":null},"y":{"field":"l","type":"quantitative"},"y2":{"field":"h"},"color":{"condition":{"test":"datum.c >= datum.o","value":"#26a69a"},"value":"#ef5350"}}},
{"data":{"name":"candles"},"mark":{"type":"rule","strokeWidth":3},"encoding":{"x":{"field":"i","type":"quantitative","axis":null},"y":{"field":"o","type":"quantitative"},"y2":{"field":"c"},"color":{"condition":{"test":"datum.c >= datum.o","value":"#26a69a"},"value":"#ef5350"}}},
{"data":{"name":"fibl"},"mark":{"type":"text","align":"left","baseline":"bottom","dy":-2,"fontSize":10,"clip":true},"encoding":{"x":{"datum":121.4,"axis":null},"y":{"field":"y","type":"quantitative"},"text":{"field":"t"},"color":{"field":"k","type":"nominal","legend":null}}},
{"data":{"values":[{"t":"Supply Weekly"}]},"mark":{"type":"text","align":"left","baseline":"middle","fontSize":12,"color":"#4a4a4a"},"encoding":{"x":{"datum":165.2,"axis":null},"y":{"datum":22.32},"text":{"field":"t"}}},
{"data":{"values":[{"t":"Đỉnh cũ"}]},"mark":{"type":"text","align":"center","baseline":"middle","fontSize":11,"fontWeight":"bold","color":"#3f5bd6"},"encoding":{"x":{"datum":107.8,"axis":null},"y":{"datum":16.23},"text":{"field":"t"}}},
{"data":{"values":[{"val":29.44,"t":"29.44","k":"r"},{"val":19.85,"t":"19.85","k":"t"},{"val":15.61,"t":"15.61","k":"g"}]},"layer":[
{"mark":{"type":"rect","yOffset":-6.5,"y2Offset":6.5,"cornerRadius":2},"encoding":{"x":{"datum":192.8,"axis":null},"x2":{"datum":200.4},"y":{"field":"val","type":"quantitative"},"y2":{"field":"val"},"fill":{"field":"k","type":"nominal","scale":{"domain":["r","t","g"],"range":["#f23645","#22a08f","#4caf50"]},"legend":null}}},
{"mark":{"type":"text","color":"white","fontWeight":"bold","fontSize":11},"encoding":{"x":{"datum":196.6,"axis":null},"y":{"field":"val","type":"quantitative"},"text":{"field":"t"}}}
]},
{"data":{"values":[{"val":15.59,"t":"15.59"}]},"layer":[
{"mark":{"type":"rect","color":"#000000","yOffset":8,"y2Offset":21,"cornerRadius":2},"encoding":{"x":{"datum":192.8,"axis":null},"x2":{"datum":200.4},"y":{"field":"val","type":"quantitative"},"y2":{"field":"val"}}},
{"mark":{"type":"text","color":"white","fontWeight":"bold","fontSize":11,"dy":14.5},"encoding":{"x":{"datum":196.6,"axis":null},"y":{"field":"val","type":"quantitative"},"text":{"field":"t"}}}
]},
{"data":{"values":[{"t":"˅ 10"}]},"layer":[
{"mark":{"type":"rect","fill":"white","stroke":"#d6d9e0","strokeWidth":1,"cornerRadius":3},"encoding":{"x":{"datum":0.3,"axis":null},"x2":{"datum":7.8},"y":{"datum":30.78},"y2":{"datum":29.95}}},
{"mark":{"type":"text","fontSize":11,"color":"#131722","align":"center","baseline":"middle"},"encoding":{"x":{"datum":4.0,"axis":null},"y":{"datum":30.37},"text":{"field":"t"}}}
]}
]}
]
},
{
"width":968,"height":98,
"layer":[
{"data":{"name":"candles"},"mark":{"type":"rule","strokeWidth":3},"encoding":{"x":{"field":"i","type":"quantitative","scale":{"domain":[-0.6,193],"nice":false,"zero":false},"axis":null},"y":{"field":"mh","type":"quantitative","scale":{"domain":[-1.27,1.41],"nice":false,"zero":false},"axis":{"orient":"right","values":[1,-1],"tickCount":10,"format":".2f","title":null}},"y2":{"datum":0},"color":{"field":"hc","type":"nominal","scale":{"domain":["A","B","C","D"],"range":["#26a69a","#b2dfdb","#ff5252","#ffcdd2"]},"legend":null}}},
{"data":{"name":"sig"},"mark":{"type":"line","color":"#ff9800","strokeWidth":1.2,"clip":true},"encoding":{"x":{"field":"i","type":"quantitative","axis":null},"y":{"field":"s","type":"quantitative"}}},
{"data":{"name":"macd"},"mark":{"type":"line","color":"#2196f3","strokeWidth":1.2,"clip":true},"encoding":{"x":{"field":"i","type":"quantitative","axis":null},"y":{"field":"m","type":"quantitative"}}},
{"data":{"values":[{"val":0.4,"t":"0.40"}]},"layer":[
{"mark":{"type":"rect","color":"#26a69a","yOffset":-6.5,"y2Offset":6.5,"cornerRadius":2},"encoding":{"x":{"datum":192.8,"axis":null},"x2":{"datum":199.2},"y":{"field":"val","type":"quantitative"},"y2":{"field":"val"}}},
{"mark":{"type":"text","color":"white","fontWeight":"bold","fontSize":11},"encoding":{"x":{"datum":196,"axis":null},"y":{"field":"val","type":"quantitative"},"text":{"field":"t"}}}
]},
{"data":{"values":[{"val":0.1,"t":"0.10"}]},"layer":[
{"mark":{"type":"rect","color":"#2196f3","yOffset":-2.5,"y2Offset":10.5,"cornerRadius":2},"encoding":{"x":{"datum":192.8,"axis":null},"x2":{"datum":199.2},"y":{"field":"val","type":"quantitative"},"y2":{"field":"val"}}},
{"mark":{"type":"text","color":"white","fontWeight":"bold","fontSize":11,"dy":4},"encoding":{"x":{"datum":196,"axis":null},"y":{"field":"val","type":"quantitative"},"text":{"field":"t"}}}
]},
{"data":{"values":[{"val":-0.31,"t":"-0.31"}]},"layer":[
{"mark":{"type":"rect","color":"#ff6d00","yOffset":-3.5,"y2Offset":9.5,"cornerRadius":2},"encoding":{"x":{"datum":192.8,"axis":null},"x2":{"datum":200.4},"y":{"field":"val","type":"quantitative"},"y2":{"field":"val"}}},
{"mark":{"type":"text","color":"white","fontWeight":"bold","fontSize":11,"dy":3},"encoding":{"x":{"datum":196.6,"axis":null},"y":{"field":"val","type":"quantitative"},"text":{"field":"t"}}}
]},
{"data":{"values":[{"t":"bar"}]},"mark":{"type":"rect","color":"#e2602c","cornerRadius":7},"encoding":{"x":{"datum":20,"axis":null},"x2":{"datum":23.2},"y":{"datum":1.41},"y2":{"datum":-0.92}}},
{"data":{"values":[{"t":"Biểu đồ giá DXG"}]},"mark":{"type":"text","align":"left","baseline":"alphabetic","font":"Liberation Serif","fontWeight":"bold","fontSize":32,"color":"#111111"},"encoding":{"x":{"datum":26.4,"axis":null},"y":{"datum":0.59},"text":{"field":"t"}}},
{"data":{"values":[{"t":"09/11/2023"}]},"mark":{"type":"text","align":"left","baseline":"alphabetic","font":"Liberation Serif","fontWeight":"bold","fontSize":32,"color":"#111111"},"encoding":{"x":{"datum":26.4,"axis":null},"y":{"datum":-0.64},"text":{"field":"t"}}}
]
},
{
"width":968,"height":81,
"layer":[
{"data":{"values":[{"lo":30,"hi":70}]},"mark":{"type":"rect","color":"#7e57c2","opacity":0.1},"encoding":{"x":{"datum":-0.6,"axis":null},"x2":{"datum":192.8},"y":{"field":"lo","type":"quantitative","scale":{"domain":[16.6,83.7],"nice":false,"zero":false},"axis":{"orient":"right","values":[75,50,25],"tickCount":10,"format":".2f","title":null}},"y2":{"field":"hi"}}},
{"data":{"values":[{"lv":70},{"lv":30}]},"mark":{"type":"rule","color":"#9598a1","strokeDash":[4,4],"strokeWidth":1},"encoding":{"x":{"datum":-0.6,"axis":null},"x2":{"datum":192.8},"y":{"field":"lv","type":"quantitative"}}},
{"data":{"name":"rsi"},"mark":{"type":"line","color":"#7e57c2","strokeWidth":1.2},"encoding":{"x":{"field":"i","type":"quantitative","scale":{"domain":[-0.6,193],"nice":false,"zero":false},"axis":null},"y":{"field":"r","type":"quantitative"}}},
{"data":{"values":[{"val":61.77,"t":"61.77"}]},"layer":[
{"mark":{"type":"rect","color":"#7e57c2","yOffset":-6.5,"y2Offset":6.5,"cornerRadius":2},"encoding":{"x":{"datum":192.8,"axis":null},"x2":{"datum":200.4},"y":{"field":"val","type":"quantitative"},"y2":{"field":"val"}}},
{"mark":{"type":"text","color":"white","fontWeight":"bold","fontSize":11},"encoding":{"x":{"datum":196.6,"axis":null},"y":{"field":"val","type":"quantitative"},"text":{"field":"t"}}}
]},
{"data":{"values":[{"t":"TV"}]},"layer":[
{"mark":{"type":"point","shape":"circle","filled":true,"fill":"white","stroke":"#e0e3eb","strokeWidth":1,"size":600,"opacity":1},"encoding":{"x":{"datum":3.8,"axis":null},"y":{"datum":31.5}}},
{"mark":{"type":"text","fontSize":13,"fontWeight":"bold","color":"#131722","align":"center","baseline":"middle"},"encoding":{"x":{"datum":3.8,"axis":null},"y":{"datum":31.5},"text":{"field":"t"}}}
]}
]
}
]
}
